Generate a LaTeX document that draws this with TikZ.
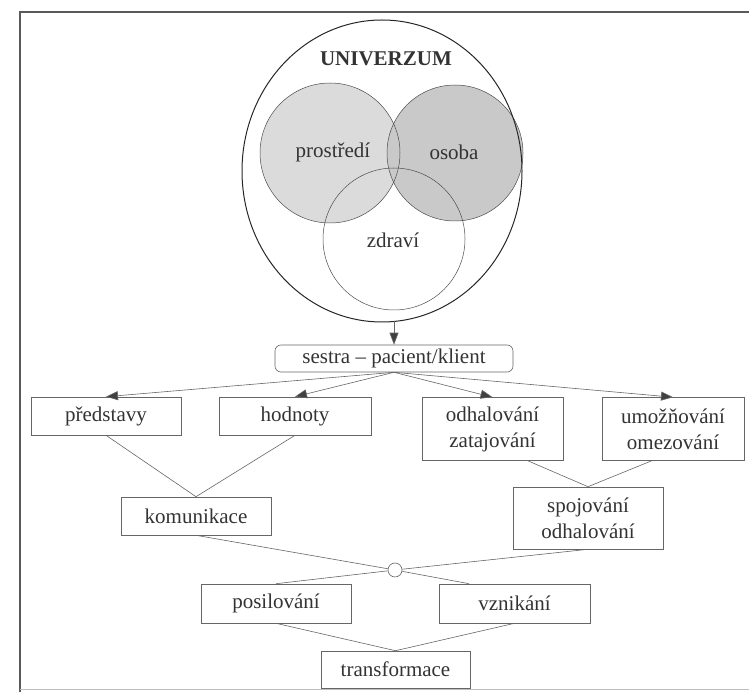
\documentclass[tikz,border=0pt]{standalone}
\usepackage{fontspec}
\setmainfont{Liberation Serif}
\usetikzlibrary{arrows.meta,calc}

\begin{document}
\begin{tikzpicture}[x=1pt,y=-1pt,
  every node/.style={font=\fontsize{21}{26}\selectfont, text=black!80},
  box/.style={draw=black!60, line width=0.6pt, inner sep=0pt, align=center},
  link/.style={draw=black!60, line width=0.6pt},
  arr/.style={link, -{Triangle[length=12pt,width=9pt,fill=black!75]}}]
\useasboundingbox (0,0) rectangle (749,692);
% frame
\draw[black!65, line width=1.8pt] (20,692) -- (20,12) -- (749,12);
\draw[black!25, line width=0.5pt] (20,689) -- (749,689);
% universe
\fill[black!14] (330,153) circle[radius=70pt];
\fill[black!21] (455,153) circle[radius=68pt];
\draw[black!70, line width=0.5pt] (330,153) circle[radius=70pt];
\draw[black!70, line width=0.5pt] (455,153) circle[radius=68pt];
\draw[black!70, line width=0.5pt] (394,239) circle[radius=71pt];
\draw[black!85, line width=1pt] (382,171) ellipse[x radius=140pt, y radius=151pt];
\node[font=\fontsize{21}{26}\selectfont\bfseries] (univerzum) at (386,59) {UNIVERZUM};
\node (prostredi) at (333,152) {prostředí};
\node (osoba) at (454,152) {osoba};
\node (zdravi) at (393,240) {zdraví};
\coordinate (univ) at (394,321.4);
% nurse - patient
\node[box, minimum width=238pt, minimum height=27pt, rounded corners=6pt] (sestra) at (394,358.5) {sestra – pacient/klient};
\draw[arr] (univ) -- (sestra);
% first row
\node[box, minimum width=150pt, minimum height=38pt] (predstavy) at (106,416) {představy};
\node[box, minimum width=152pt, minimum height=38pt] (hodnoty) at (295,416) {hodnoty};
\node[box, minimum width=141pt, minimum height=63pt] (odhalovani) at (492.5,429) {odhalování\\zatajování};
\node[box, minimum width=142pt, minimum height=63pt] (umoznovani) at (673,429) {umožňování\\omezování};
\foreach \n in {predstavy,hodnoty,odhalovani,umoznovani}
  \draw[arr] (sestra.south) -- (\n.north);
% second row
\node[box, minimum width=150pt, minimum height=38pt] (komunikace) at (196,516) {komunikace};
\node[box, minimum width=150pt, minimum height=62pt] (spojovani) at (588,518) {spojování\\odhalování};
\draw[link] (predstavy.south) -- (komunikace.north) -- (hodnoty.south);
\draw[link] ($(odhalovani.south west)!0.75!(odhalovani.south east)$) -- (spojovani.north)
  -- ($(umoznovani.south west)!0.35!(umoznovani.south east)$);
% knot
\node[draw=black!60, line width=0.6pt, circle, minimum size=14pt, inner sep=0pt] (uzel) at (395,570) {};
\draw[link] (komunikace.south) -- (uzel);
\draw[link] (spojovani.south) -- (uzel);
% third row
\node[box, minimum width=150pt, minimum height=39pt] (posilovani) at (276,603.5) {posilování};
\node[box, minimum width=151pt, minimum height=39pt] (vznikani) at (514.5,603.5) {vznikání};
\node[box, minimum width=149pt, minimum height=37pt] (transformace) at (395.5,669.5) {transformace};
\draw[link] (uzel) -- (posilovani.north);
\draw[link] (uzel) -- ($(vznikani.north west)!0.2!(vznikani.north east)$);
\draw[link] (posilovani.south) -- (transformace.north) -- (vznikani.south);
\end{tikzpicture}
\end{document}
